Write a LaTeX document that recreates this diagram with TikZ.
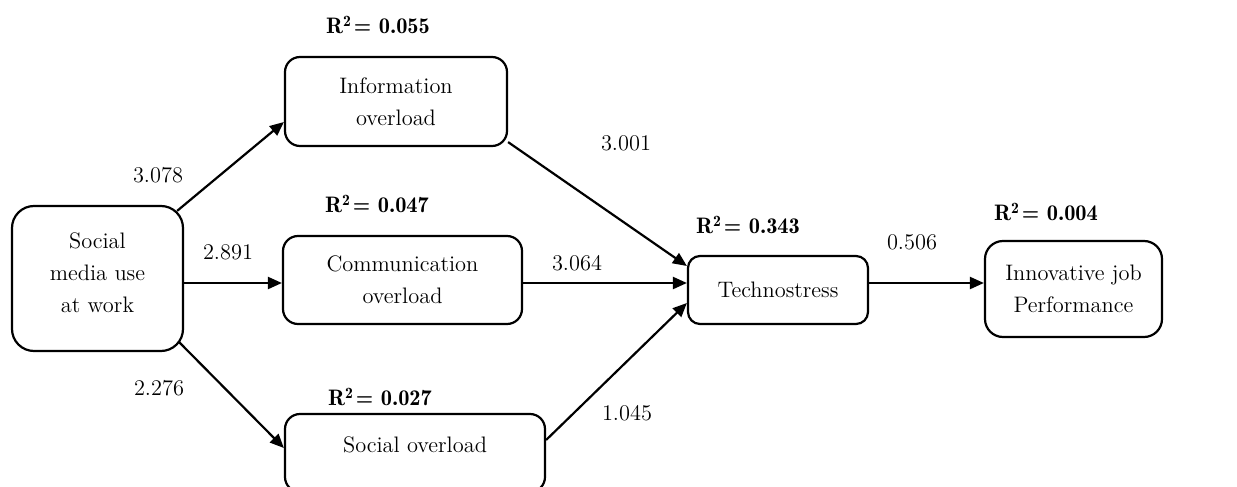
\documentclass[tikz,border=0pt]{standalone}
\usetikzlibrary{arrows.meta}
\begin{document}
\begin{tikzpicture}[x=0.5pt,y=-0.5pt,
  every node/.style={font=\fontsize{11.2}{16}\selectfont},
  box/.style={draw, line width=1.1pt, align=center, inner sep=0pt},
  arr/.style={-{Triangle[length=7pt,width=6pt]}, line width=1.1pt},
  coef/.style={inner sep=1pt},
  rsq/.style={inner sep=1pt, font=\fontsize{11.2}{16}\fontseries{b}\selectfont}]
\useasboundingbox (0,0) rectangle (1237,487);
% boxes
\node[box, minimum width=85.5pt, minimum height=72.5pt, rounded corners=11pt] (sm) at (97.5,278.5) {};
\node[inner sep=0pt, align=center] (smtxt) at (97.5,272.5) {Social\\media use\\at work};
\node[box, minimum width=111pt, minimum height=44.5pt, rounded corners=7.5pt] (info) at (396,101.5) {Information\\overload};
\node[box, minimum width=119.5pt, minimum height=44pt, rounded corners=7.5pt] (comm) at (402.5,280) {Communication\\overload};
\node[box, minimum width=130pt, minimum height=39pt, rounded corners=7.5pt] (so) at (415,453) {};
\node[inner sep=0pt] (sotxt) at (415,445) {Social overload};
\node[box, minimum width=90pt, minimum height=34pt, rounded corners=6pt] (tech) at (778,290) {Technostress};
\node[box, minimum width=88.5pt, minimum height=48pt, rounded corners=9pt] (innov) at (1073.5,289) {Innovative job\\Performance};
% connectors
\draw[arr] ([shift={(-7,6)}]sm.north east) -- ([shift={(0,20.5)}]info.west);
\draw[arr] ([shift={(0,4.5)}]sm.east) -- ([shift={(0,3)}]comm.west);
\draw[arr] ([shift={(-5,-10)}]sm.south east) -- ([shift={(0,-5)}]so.west);
\draw[arr] ([shift={(0,-5)}]info.south east) -- ([shift={(0,-24)}]tech.west);
\draw[arr] ([shift={(0,3)}]comm.east) -- ([shift={(0,-7)}]tech.west);
\draw[arr] ([shift={(0,-13)}]so.east) -- ([shift={(0,13)}]tech.west);
\draw[arr] ([shift={(0,-7)}]tech.east) -- ([shift={(0,-6)}]innov.west);
% coefficients
\node[coef] (c1) at (158,175) {3.078};
\node[coef] (c2) at (228,252) {2.891};
\node[coef] (c3) at (159,388) {2.276};
\node[coef] (c4) at (626,143) {3.001};
\node[coef] (c5) at (577,263) {3.064};
\node[coef] (c6) at (627,413) {1.045};
\node[coef] (c7) at (912,242) {0.506};
% R squared
\node[rsq] (r1) at (378,25) {R\textsuperscript{2}\kern1pt= 0.055};
\node[rsq] (r2) at (377,204) {R\textsuperscript{2}\kern1pt= 0.047};
\node[rsq] (r3) at (380,397) {R\textsuperscript{2}\kern1pt= 0.027};
\node[rsq] (r4) at (748,225) {R\textsuperscript{2}\kern1pt= 0.343};
\node[rsq] (r5) at (1046,212) {R\textsuperscript{2}\kern1pt= 0.004};
\end{tikzpicture}
\end{document}
